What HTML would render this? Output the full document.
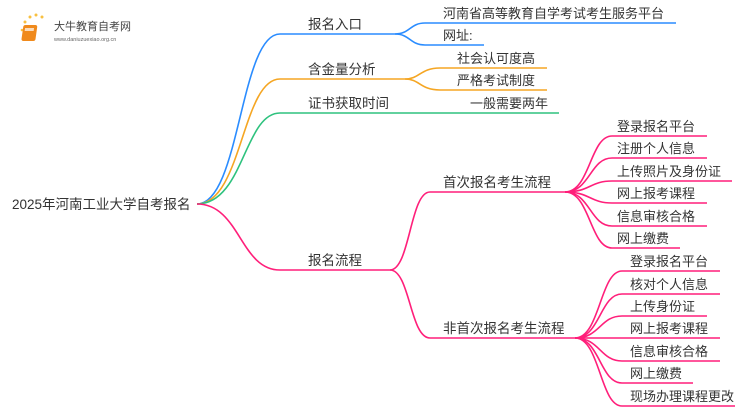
<!DOCTYPE html>
<html><head><meta charset="utf-8"><style>
html,body{margin:0;padding:0;background:#fff;}
svg text{font-family:"Liberation Sans","Noto Sans CJK SC",sans-serif;fill:#333;}
</style></head><body>
<svg width="750" height="410" viewBox="0 0 750 410" xmlns="http://www.w3.org/2000/svg">
<g fill="none" stroke-width="1.6">
<path d="M197 204 C240 204,240 34,280 34 L395 34" stroke="#2a8cff"/>
<path d="M197 204 C242 204,242 79,280 79 L405 79" stroke="#f5a623"/>
<path d="M197 204 C244 204,244 113,280 113 L559 113" stroke="#2ec27e"/>
<path d="M197 204 C240 204,240 270,280 270 L390 270" stroke="#ff1f7a"/>
<path d="M395 34 C410 34,410 23,425 23 L676 23" stroke="#2a8cff"/>
<path d="M395 34 C410 34,410 45,425 45 L484 45" stroke="#2a8cff"/>
<path d="M405 79 C420 79,420 68,440 68 L547 68" stroke="#f5a623"/>
<path d="M405 79 C420 79,420 90,440 90 L547 90" stroke="#f5a623"/>
<path d="M390 270 C410 270,410 192,430 192 L565 192" stroke="#ff1f7a"/>
<path d="M390 270 C410 270,410 338,430 338 L575 338" stroke="#ff1f7a"/>
<g stroke="#ff1f7a">
<path d="M565 192 C590 192,590 136,612 136 L707 136"/>
<path d="M565 192 C590 192,590 158,612 158 L707 158"/>
<path d="M565 192 C590 192,590 181,612 181 L732 181"/>
<path d="M565 192 C590 192,590 203,612 203 L707 203"/>
<path d="M565 192 C590 192,590 226,612 226 L707 226"/>
<path d="M565 192 C590 192,590 248,612 248 L680 248"/>
<path d="M575 338 C600 338,600 271,622 271 L720 271"/>
<path d="M575 338 C600 338,600 294,622 294 L720 294"/>
<path d="M575 338 C600 338,600 316,622 316 L707 316"/>
<path d="M575 338 L720 338"/>
<path d="M575 338 C600 338,600 361,622 361 L720 361"/>
<path d="M575 338 C600 338,600 383,622 383 L693 383"/>
<path d="M575 338 C600 338,600 406,622 406 L735 406"/>
</g>
</g>
<g>
<circle cx="25" cy="22" r="1.5" fill="#f8c040"/><circle cx="30" cy="17" r="1.5" fill="#f8c040"/><circle cx="36" cy="15" r="1.5" fill="#f8c040"/><circle cx="42" cy="17" r="1.5" fill="#f8c040"/><circle cx="22" cy="30" r="1.3" fill="#f8c040"/><circle cx="23" cy="38" r="1.2" fill="#fbd680"/>
<rect x="27" y="25" width="14" height="16" rx="2" fill="#f08a1c" transform="skewX(-8)"/>
<rect x="29" y="28" width="9" height="3" fill="#fff" opacity="0.7" transform="skewX(-8)"/>
<text x="54" y="30" font-size="11" style="fill:#444">大牛教育自考网</text>
<text x="54" y="41" font-size="5.5" style="fill:#666">www.daniuzuexiao.org.cn</text>
</g>
<g font-size="13.5">
<text x="12" y="209">2025年河南工业大学自考报名</text>
<text x="308" y="29">报名入口</text>
<text x="308" y="74">含金量分析</text>
<text x="308" y="108">证书获取时间</text>
<text x="308" y="265">报名流程</text>
<text x="443" y="187">首次报名考生流程</text>
<text x="443" y="333">非首次报名考生流程</text>
</g>
<g font-size="13">
<text x="443" y="18">河南省高等教育自学考试考生服务平台</text>
<text x="443" y="40">网址:</text>
<text x="457" y="63">社会认可度高</text>
<text x="457" y="85">严格考试制度</text>
<text x="470" y="108">一般需要两年</text>
<text x="617" y="131">登录报名平台</text>
<text x="617" y="153">注册个人信息</text>
<text x="617" y="176">上传照片及身份证</text>
<text x="617" y="198">网上报考课程</text>
<text x="617" y="221">信息审核合格</text>
<text x="617" y="243">网上缴费</text>
<text x="630" y="266">登录报名平台</text>
<text x="630" y="289">核对个人信息</text>
<text x="630" y="311">上传身份证</text>
<text x="630" y="333">网上报考课程</text>
<text x="630" y="356">信息审核合格</text>
<text x="630" y="378">网上缴费</text>
<text x="630" y="401">现场办理课程更改</text>
</g>
</svg>
</body></html>
